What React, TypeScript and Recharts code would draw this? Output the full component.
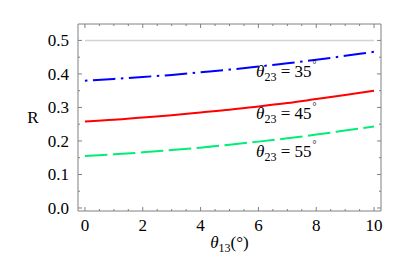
import React from "react";
import { ComposedChart, Line, XAxis, YAxis, ReferenceArea, ReferenceDot } from "recharts";

const theta13 = [0, 1, 2, 3, 4, 5, 6, 7, 8, 9, 10];
const r35 = [0.38, 0.385, 0.391, 0.397, 0.405, 0.413, 0.422, 0.432, 0.442, 0.454, 0.466];
const r45 = [0.258, 0.263, 0.27, 0.277, 0.285, 0.293, 0.303, 0.313, 0.325, 0.337, 0.35];
const r55 = [0.155, 0.16, 0.166, 0.173, 0.18, 0.189, 0.198, 0.208, 0.219, 0.231, 0.243];
const bound = [0.5, 0.5, 0.5, 0.5, 0.5, 0.5, 0.5, 0.5, 0.5, 0.5, 0.5];

const xTicks = [0, 0.5, 1, 1.5, 2, 2.5, 3, 3.5, 4, 4.5, 5, 5.5, 6, 6.5, 7, 7.5, 8, 8.5, 9, 9.5, 10];
const xLabels = [0, 2, 4, 6, 8, 10];
const yTicks = [0, 0.05, 0.1, 0.15, 0.2, 0.25, 0.3, 0.35, 0.4, 0.45, 0.5];
const yLabels = [0, 0.1, 0.2, 0.3, 0.4, 0.5];

const curveLabels = [
  { angle: "35", x: 5.92, y: 0.391 },
  { angle: "45", x: 5.92, y: 0.2655 },
  { angle: "55", x: 5.92, y: 0.152 },
];

const data = theta13.map((t, i) => ({ t, r35: r35[i], r45: r45[i], r55: r55[i], bound: bound[i] }));

const W = 416;
const H = 257;
const M = { top: 24, right: 35, left: 0, bottom: 0 };
const YW = 78;
const XH = 46;
const PLOT_TOP = M.top;
const PLOT_RIGHT = W - M.right;
const FONT = "'Liberation Serif', 'Times New Roman', Times, serif";
const FRAME = "#808080";
const TS = { fontFamily: FONT, fontSize: 17, fill: "#000" };

const near = (v: number, arr: number[]) => arr.some((a) => Math.abs(a - v) < 1e-6);

const XTick = (props: any) => {
  const { x, y, payload } = props;
  const major = near(payload.value, xLabels);
  const len = major ? 4 : 2;
  return (
    <g>
      <line x1={x} x2={x} y1={y} y2={y - len} stroke={FRAME} strokeWidth={1} />
      <line x1={x} x2={x} y1={PLOT_TOP} y2={PLOT_TOP + len} stroke={FRAME} strokeWidth={1} />
      {major && (
        <text x={x} y={y + 20} textAnchor="middle" style={TS}>
          {payload.value}
        </text>
      )}
    </g>
  );
};

const YTick = (props: any) => {
  const { x, y, payload } = props;
  const major = near(payload.value, yLabels);
  const len = major ? 4 : 2;
  return (
    <g>
      <line x1={x} x2={x + len} y1={y} y2={y} stroke={FRAME} strokeWidth={1} />
      <line x1={PLOT_RIGHT} x2={PLOT_RIGHT - len} y1={y} y2={y} stroke={FRAME} strokeWidth={1} />
      {major && (
        <text x={x - 9} y={y} dy="0.35em" textAnchor="end" style={TS}>
          {payload.value.toFixed(1)}
        </text>
      )}
    </g>
  );
};

const YLabel = (props: any) => {
  const vb = props.viewBox;
  return (
    <text x={vb.x + 33} y={vb.y + vb.height / 2} dy="0.35em" textAnchor="middle" style={TS}>
      R
    </text>
  );
};

const XLabel = (props: any) => {
  const vb = props.viewBox;
  return (
    <text x={vb.x + vb.width / 2} y={vb.y + 37} textAnchor="middle" style={TS}>
      <tspan style={{ fontStyle: "italic" }}>θ</tspan>
      <tspan style={{ fontSize: 12 }} dy={4}>13</tspan>
      <tspan dy={-4}>(°)</tspan>
    </text>
  );
};

const makeCurveLabel = (angle: string) => (props: any) => {
  const vb = props.viewBox;
  return (
    <text x={vb.x} y={vb.y} style={TS}>
      <tspan style={{ fontStyle: "italic" }}>θ</tspan>
      <tspan style={{ fontSize: 12 }} dy={4}>23</tspan>
      <tspan dy={-4}>{" = " + angle}</tspan>
      <tspan style={{ fontSize: 10 }} dx={1} dy={-9}>°</tspan>
    </text>
  );
};

export default function App() {
  return (
    <div style={{ position: "absolute", left: 0, top: 0, background: "#fff" }}>
      <ComposedChart width={W} height={H} data={data} margin={M}>
        <XAxis
          dataKey="t"
          type="number"
          domain={[-0.24, 10.24]}
          ticks={xTicks}
          interval={0}
          tick={<XTick />}
          tickLine={false}
          tickSize={0}
          tickMargin={0}
          axisLine={false}
          height={XH}
          allowDataOverflow
          label={<XLabel />}
        />
        <YAxis
          type="number"
          domain={[-0.009, 0.549]}
          ticks={yTicks}
          interval={0}
          tick={<YTick />}
          tickLine={false}
          tickSize={0}
          tickMargin={0}
          axisLine={false}
          width={YW}
          allowDataOverflow
          label={<YLabel />}
        />
        <ReferenceArea x1={-0.24} x2={10.24} y1={-0.009} y2={0.549} fill="none" stroke={FRAME} strokeWidth={1} fillOpacity={0} />
        <Line dataKey="bound" stroke="#d3d3d3" strokeWidth={1.5} dot={false} isAnimationActive={false} />
        <Line type="monotone" dataKey="r35" stroke="#0000ff" strokeWidth={2} strokeDasharray="2.5 5.5 22.5 5.5" dot={false} isAnimationActive={false} />
        <Line type="monotone" dataKey="r45" stroke="#ff0000" strokeWidth={2} dot={false} isAnimationActive={false} />
        <Line type="monotone" dataKey="r55" stroke="#00ee77" strokeWidth={2} strokeDasharray="22.5 5.5" dot={false} isAnimationActive={false} />
        {curveLabels.map((c) => (
          <ReferenceDot key={c.angle} x={c.x} y={c.y} r={0} stroke="none" fill="none" label={makeCurveLabel(c.angle)} />
        ))}
      </ComposedChart>
    </div>
  );
}
